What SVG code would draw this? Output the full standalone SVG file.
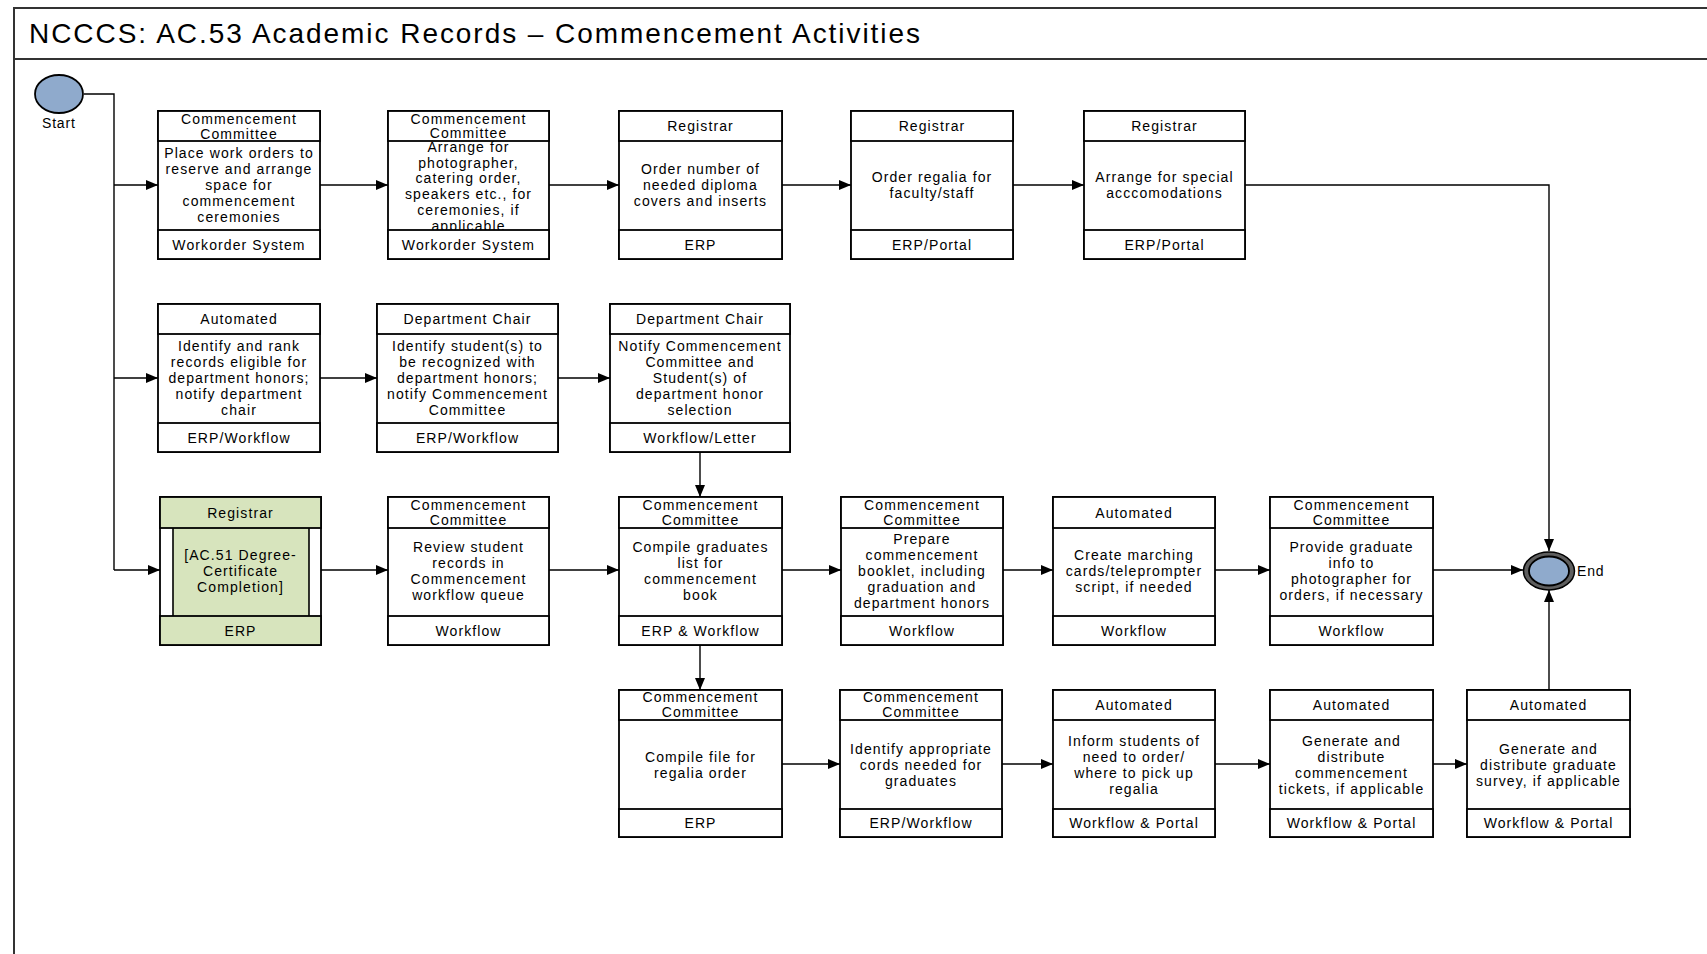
<svg xmlns="http://www.w3.org/2000/svg" width="1707" height="954" viewBox="0 0 1707 954">
  <defs>
    <marker id="arrow" viewBox="0 0 12 10" markerWidth="12" markerHeight="10" refX="12" refY="5" orient="auto" markerUnits="userSpaceOnUse">
      <path d="M0,0 L12,5 L0,10 z" fill="#000"/>
    </marker>
    <style>
      .frame { fill: #fff; stroke: #333; stroke-width: 2; }
      .box { fill: #fff; stroke: #000; stroke-width: 1.8; }
      .cell { fill: #fff; stroke: #000; stroke-width: 1.8; }
      .green { fill: #D7E4BD; stroke: #000; stroke-width: 1.8; }
      .t { font-family: "Liberation Sans", Arial, sans-serif; font-size: 14px; letter-spacing: 1.1px; fill: #000; text-anchor: middle; dominant-baseline: central; }
      .lbl { font-family: "Liberation Sans", Arial, sans-serif; font-size: 14px; letter-spacing: 0.8px; fill: #000; dominant-baseline: central; }
      .title { font-family: "Liberation Sans", Arial, sans-serif; font-size: 28px; fill: #000; }
      .conn { fill: none; stroke: #000; stroke-width: 1.4; }
      .event { fill: #8FAACC; stroke: #000; stroke-width: 1.8; }
    </style>
  </defs>

  <rect width="1707" height="954" fill="#fff"/>

  <!-- pool frame and title bar -->
  <g id="frame">
    <rect class="frame" x="14" y="8" width="1720" height="980"/>
    <line x1="14" y1="59" x2="1707" y2="59" stroke="#333" stroke-width="2"/>
    <text class="title" x="29" y="43" textLength="891" lengthAdjust="spacing">NCCCS: AC.53 Academic Records – Commencement Activities</text>
  </g>

  <!-- connectors -->
  <g id="connectors">
    <polyline class="conn" points="84,94 114,94 114,570"/>
    <line class="conn" x1="114" y1="185" x2="158" y2="185" marker-end="url(#arrow)"/>
    <line class="conn" x1="114" y1="378" x2="158" y2="378" marker-end="url(#arrow)"/>
    <line class="conn" x1="114" y1="570" x2="160" y2="570" marker-end="url(#arrow)"/>

    <line class="conn" x1="320" y1="185" x2="388" y2="185" marker-end="url(#arrow)"/>
    <line class="conn" x1="549" y1="185" x2="619" y2="185" marker-end="url(#arrow)"/>
    <line class="conn" x1="782" y1="185" x2="851" y2="185" marker-end="url(#arrow)"/>
    <line class="conn" x1="1013" y1="185" x2="1084" y2="185" marker-end="url(#arrow)"/>
    <polyline class="conn" points="1245,185 1549,185 1549,551" marker-end="url(#arrow)"/>

    <line class="conn" x1="320" y1="378" x2="377" y2="378" marker-end="url(#arrow)"/>
    <line class="conn" x1="558" y1="378" x2="610" y2="378" marker-end="url(#arrow)"/>
    <line class="conn" x1="700" y1="452" x2="700" y2="497" marker-end="url(#arrow)"/>

    <line class="conn" x1="321" y1="570" x2="388" y2="570" marker-end="url(#arrow)"/>
    <line class="conn" x1="549" y1="570" x2="619" y2="570" marker-end="url(#arrow)"/>
    <line class="conn" x1="782" y1="570" x2="841" y2="570" marker-end="url(#arrow)"/>
    <line class="conn" x1="1003" y1="570" x2="1053" y2="570" marker-end="url(#arrow)"/>
    <line class="conn" x1="1215" y1="570" x2="1270" y2="570" marker-end="url(#arrow)"/>
    <line class="conn" x1="1433" y1="570" x2="1523" y2="570" marker-end="url(#arrow)"/>

    <line class="conn" x1="700" y1="645" x2="700" y2="690" marker-end="url(#arrow)"/>
    <line class="conn" x1="782" y1="764" x2="840" y2="764" marker-end="url(#arrow)"/>
    <line class="conn" x1="1002" y1="764" x2="1053" y2="764" marker-end="url(#arrow)"/>
    <line class="conn" x1="1215" y1="764" x2="1270" y2="764" marker-end="url(#arrow)"/>
    <line class="conn" x1="1433" y1="764" x2="1467" y2="764" marker-end="url(#arrow)"/>
    <line class="conn" x1="1549" y1="690" x2="1549" y2="590" marker-end="url(#arrow)"/>
  </g>

  <!-- start / end events -->
  <g id="start">
    <ellipse class="event" cx="59" cy="94" rx="24" ry="19"/>
    <text class="lbl" x="42" y="123">Start</text>
  </g>
  <g id="end">
    <ellipse cx="1549" cy="571" rx="25.5" ry="19" fill="#5E5E5E" stroke="#000" stroke-width="1.5"/>
    <ellipse class="event" cx="1549" cy="571" rx="20" ry="14.5" stroke-width="1.4"/>
    <text class="lbl" x="1577" y="571">End</text>
  </g>

  <!-- row 1 -->
  <g id="n-workorders">
    <rect class="box" x="158" y="111" width="162" height="148"/>
    <text class="t" x="239" y="153">Place work orders to</text>
    <text class="t" x="239" y="169">reserve and arrange</text>
    <text class="t" x="239" y="185">space for</text>
    <text class="t" x="239" y="201">commencement</text>
    <text class="t" x="239" y="217">ceremonies</text>
    <rect class="cell" x="158" y="111" width="162" height="30"/>
    <rect class="cell" x="158" y="230" width="162" height="29"/>
    <text class="t" x="239" y="119">Commencement</text>
    <text class="t" x="239" y="134">Committee</text>
    <text class="t" x="239" y="244.5">Workorder System</text>
  </g>
  <g id="n-photographer">
    <rect class="box" x="388" y="111" width="161" height="148"/>
    <text class="t" x="468.5" y="147">Arrange for</text>
    <text class="t" x="468.5" y="162.5">photographer,</text>
    <text class="t" x="468.5" y="178">catering order,</text>
    <text class="t" x="468.5" y="194">speakers etc., for</text>
    <text class="t" x="468.5" y="210">ceremonies, if</text>
    <text class="t" x="468.5" y="226">applicable</text>
    <rect class="cell" x="388" y="111" width="161" height="30"/>
    <rect class="cell" x="388" y="230" width="161" height="29"/>
    <text class="t" x="468.5" y="118.5">Commencement</text>
    <text class="t" x="468.5" y="133">Committee</text>
    <text class="t" x="468.5" y="244.5">Workorder System</text>
  </g>
  <g id="n-diploma">
    <rect class="box" x="619" y="111" width="163" height="148"/>
    <text class="t" x="700.5" y="169">Order number of</text>
    <text class="t" x="700.5" y="185">needed  diploma</text>
    <text class="t" x="700.5" y="201">covers and inserts</text>
    <rect class="cell" x="619" y="111" width="163" height="30"/>
    <rect class="cell" x="619" y="230" width="163" height="29"/>
    <text class="t" x="700.5" y="126">Registrar</text>
    <text class="t" x="700.5" y="244.5">ERP</text>
  </g>
  <g id="n-regalia-staff">
    <rect class="box" x="851" y="111" width="162" height="148"/>
    <text class="t" x="932" y="177">Order regalia for</text>
    <text class="t" x="932" y="193">faculty/staff</text>
    <rect class="cell" x="851" y="111" width="162" height="30"/>
    <rect class="cell" x="851" y="230" width="162" height="29"/>
    <text class="t" x="932" y="126">Registrar</text>
    <text class="t" x="932" y="244.5">ERP/Portal</text>
  </g>
  <g id="n-accommodations">
    <rect class="box" x="1084" y="111" width="161" height="148"/>
    <text class="t" x="1164.5" y="177">Arrange for special</text>
    <text class="t" x="1164.5" y="193">acccomodations</text>
    <rect class="cell" x="1084" y="111" width="161" height="30"/>
    <rect class="cell" x="1084" y="230" width="161" height="29"/>
    <text class="t" x="1164.5" y="126">Registrar</text>
    <text class="t" x="1164.5" y="244.5">ERP/Portal</text>
  </g>

  <!-- row 2 -->
  <g id="n-rank-honors">
    <rect class="box" x="158" y="304" width="162" height="148"/>
    <text class="t" x="239" y="346">Identify and rank</text>
    <text class="t" x="239" y="362">records eligible for</text>
    <text class="t" x="239" y="378">department honors;</text>
    <text class="t" x="239" y="394">notify department</text>
    <text class="t" x="239" y="410">chair</text>
    <rect class="cell" x="158" y="304" width="162" height="30"/>
    <rect class="cell" x="158" y="423" width="162" height="29"/>
    <text class="t" x="239" y="319">Automated</text>
    <text class="t" x="239" y="437.5">ERP/Workflow</text>
  </g>
  <g id="n-select-honors">
    <rect class="box" x="377" y="304" width="181" height="148"/>
    <text class="t" x="467.5" y="346">Identify student(s) to</text>
    <text class="t" x="467.5" y="362">be recognized with</text>
    <text class="t" x="467.5" y="378">department honors;</text>
    <text class="t" x="467.5" y="394">notify Commencement</text>
    <text class="t" x="467.5" y="410">Committee</text>
    <rect class="cell" x="377" y="304" width="181" height="30"/>
    <rect class="cell" x="377" y="423" width="181" height="29"/>
    <text class="t" x="467.5" y="319">Department Chair</text>
    <text class="t" x="467.5" y="437.5">ERP/Workflow</text>
  </g>
  <g id="n-notify-honors">
    <rect class="box" x="610" y="304" width="180" height="148"/>
    <text class="t" x="700" y="346">Notify Commencement</text>
    <text class="t" x="700" y="362">Committee and</text>
    <text class="t" x="700" y="378">Student(s) of</text>
    <text class="t" x="700" y="394">department honor</text>
    <text class="t" x="700" y="410">selection</text>
    <rect class="cell" x="610" y="304" width="180" height="30"/>
    <rect class="cell" x="610" y="423" width="180" height="29"/>
    <text class="t" x="700" y="319">Department Chair</text>
    <text class="t" x="700" y="437.5">Workflow/Letter</text>
  </g>

  <!-- row 3 -->
  <g id="n-ac51">
    <rect class="box" x="160" y="497" width="161" height="148"/>
    <rect x="173" y="528" width="136" height="88" fill="#D7E4BD"/>
    <line x1="173" y1="528" x2="173" y2="616" stroke="#000" stroke-width="1.6"/>
    <line x1="309" y1="528" x2="309" y2="616" stroke="#000" stroke-width="1.6"/>
    <rect class="green" x="160" y="497" width="161" height="31"/>
    <rect class="green" x="160" y="616" width="161" height="29"/>
    <text class="t" x="240.5" y="512.5">Registrar</text>
    <text class="t" x="240.5" y="555">[AC.51 Degree-</text>
    <text class="t" x="240.5" y="571">Certificate</text>
    <text class="t" x="240.5" y="587">Completion]</text>
    <text class="t" x="240.5" y="630.5">ERP</text>
  </g>
  <g id="n-review">
    <rect class="box" x="388" y="497" width="161" height="148"/>
    <text class="t" x="468.5" y="547">Review student</text>
    <text class="t" x="468.5" y="563">records in</text>
    <text class="t" x="468.5" y="579">Commencement</text>
    <text class="t" x="468.5" y="595">workflow queue</text>
    <rect class="cell" x="388" y="497" width="161" height="31"/>
    <rect class="cell" x="388" y="616" width="161" height="29"/>
    <text class="t" x="468.5" y="504.5">Commencement</text>
    <text class="t" x="468.5" y="519.5">Committee</text>
    <text class="t" x="468.5" y="630.5">Workflow</text>
  </g>
  <g id="n-compile-list">
    <rect class="box" x="619" y="497" width="163" height="148"/>
    <text class="t" x="700.5" y="547">Compile graduates</text>
    <text class="t" x="700.5" y="563">list for</text>
    <text class="t" x="700.5" y="579">commencement</text>
    <text class="t" x="700.5" y="595">book</text>
    <rect class="cell" x="619" y="497" width="163" height="31"/>
    <rect class="cell" x="619" y="616" width="163" height="29"/>
    <text class="t" x="700.5" y="504.5">Commencement</text>
    <text class="t" x="700.5" y="519.5">Committee</text>
    <text class="t" x="700.5" y="630.5">ERP &amp; Workflow</text>
  </g>
  <g id="n-booklet">
    <rect class="box" x="841" y="497" width="162" height="148"/>
    <text class="t" x="922" y="539">Prepare</text>
    <text class="t" x="922" y="555">commencement</text>
    <text class="t" x="922" y="571">booklet, including</text>
    <text class="t" x="922" y="587">graduation and</text>
    <text class="t" x="922" y="603">department honors</text>
    <rect class="cell" x="841" y="497" width="162" height="31"/>
    <rect class="cell" x="841" y="616" width="162" height="29"/>
    <text class="t" x="922" y="504.5">Commencement</text>
    <text class="t" x="922" y="519.5">Committee</text>
    <text class="t" x="922" y="630.5">Workflow</text>
  </g>
  <g id="n-marching">
    <rect class="box" x="1053" y="497" width="162" height="148"/>
    <text class="t" x="1134" y="555">Create marching</text>
    <text class="t" x="1134" y="571">cards/teleprompter</text>
    <text class="t" x="1134" y="587">script, if needed</text>
    <rect class="cell" x="1053" y="497" width="162" height="31"/>
    <rect class="cell" x="1053" y="616" width="162" height="29"/>
    <text class="t" x="1134" y="512.5">Automated</text>
    <text class="t" x="1134" y="630.5">Workflow</text>
  </g>
  <g id="n-photo-info">
    <rect class="box" x="1270" y="497" width="163" height="148"/>
    <text class="t" x="1351.5" y="547">Provide graduate</text>
    <text class="t" x="1351.5" y="563">info to</text>
    <text class="t" x="1351.5" y="579">photographer for</text>
    <text class="t" x="1351.5" y="595">orders, if necessary</text>
    <rect class="cell" x="1270" y="497" width="163" height="31"/>
    <rect class="cell" x="1270" y="616" width="163" height="29"/>
    <text class="t" x="1351.5" y="504.5">Commencement</text>
    <text class="t" x="1351.5" y="519.5">Committee</text>
    <text class="t" x="1351.5" y="630.5">Workflow</text>
  </g>

  <!-- row 4 -->
  <g id="n-regalia-file">
    <rect class="box" x="619" y="690" width="163" height="147"/>
    <text class="t" x="700.5" y="756.5">Compile file for</text>
    <text class="t" x="700.5" y="772.5">regalia order</text>
    <rect class="cell" x="619" y="690" width="163" height="30"/>
    <rect class="cell" x="619" y="809" width="163" height="28"/>
    <text class="t" x="700.5" y="697">Commencement</text>
    <text class="t" x="700.5" y="712">Committee</text>
    <text class="t" x="700.5" y="823">ERP</text>
  </g>
  <g id="n-cords">
    <rect class="box" x="840" y="690" width="162" height="147"/>
    <text class="t" x="921" y="748.5">Identify appropriate</text>
    <text class="t" x="921" y="764.5">cords needed for</text>
    <text class="t" x="921" y="780.5">graduates</text>
    <rect class="cell" x="840" y="690" width="162" height="30"/>
    <rect class="cell" x="840" y="809" width="162" height="28"/>
    <text class="t" x="921" y="697">Commencement</text>
    <text class="t" x="921" y="712">Committee</text>
    <text class="t" x="921" y="823">ERP/Workflow</text>
  </g>
  <g id="n-inform">
    <rect class="box" x="1053" y="690" width="162" height="147"/>
    <text class="t" x="1134" y="740.5">Inform students of</text>
    <text class="t" x="1134" y="756.5">need to order/</text>
    <text class="t" x="1134" y="772.5">where to pick up</text>
    <text class="t" x="1134" y="788.5">regalia</text>
    <rect class="cell" x="1053" y="690" width="162" height="30"/>
    <rect class="cell" x="1053" y="809" width="162" height="28"/>
    <text class="t" x="1134" y="705">Automated</text>
    <text class="t" x="1134" y="823">Workflow &amp; Portal</text>
  </g>
  <g id="n-tickets">
    <rect class="box" x="1270" y="690" width="163" height="147"/>
    <text class="t" x="1351.5" y="740.5">Generate and</text>
    <text class="t" x="1351.5" y="756.5">distribute</text>
    <text class="t" x="1351.5" y="772.5">commencement</text>
    <text class="t" x="1351.5" y="788.5">tickets, if applicable</text>
    <rect class="cell" x="1270" y="690" width="163" height="30"/>
    <rect class="cell" x="1270" y="809" width="163" height="28"/>
    <text class="t" x="1351.5" y="705">Automated</text>
    <text class="t" x="1351.5" y="823">Workflow &amp; Portal</text>
  </g>
  <g id="n-survey">
    <rect class="box" x="1467" y="690" width="163" height="147"/>
    <text class="t" x="1548.5" y="748.5">Generate and</text>
    <text class="t" x="1548.5" y="764.5">distribute graduate</text>
    <text class="t" x="1548.5" y="780.5">survey, if applicable</text>
    <rect class="cell" x="1467" y="690" width="163" height="30"/>
    <rect class="cell" x="1467" y="809" width="163" height="28"/>
    <text class="t" x="1548.5" y="705">Automated</text>
    <text class="t" x="1548.5" y="823">Workflow &amp; Portal</text>
  </g>
</svg>
